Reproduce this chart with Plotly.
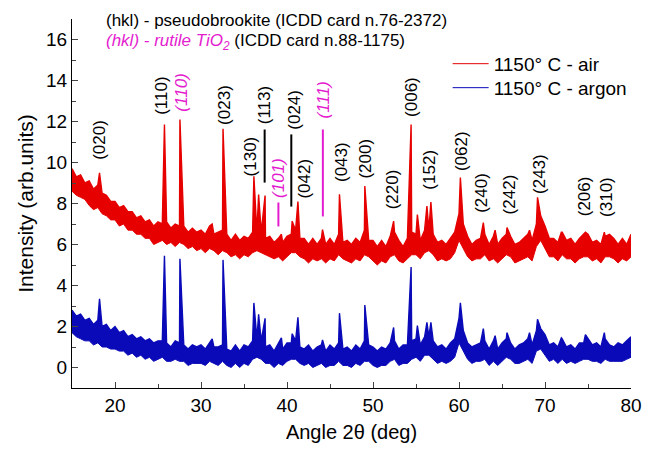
import numpy as np
import plotly.graph_objects as go

# ---------------- data ----------------
angles = np.arange(15.0, 80.001, 0.5)

air_upper = [9.7, 9.3, 9.4, 9.0, 9.1, 8.7, 8.9, 8.5, 8.4, 8.1,
             8.1, 7.8, 7.9, 7.6, 7.6, 7.3, 7.4, 7.1, 7.2, 6.9,
             7.1, 7.0, 7.1, 6.8, 7.0, 6.9, 6.9, 6.6, 6.8, 6.6,
             6.7, 6.5, 6.9, 6.5, 6.6, 6.7, 6.5, 6.2, 6.5, 6.2,
             6.4, 6.3, 6.6, 6.6, 6.6, 6.3, 6.4, 6.1, 6.3, 6.1,
             6.4, 6.5, 6.7, 6.3, 6.3, 6.0, 6.3, 6.0, 6.3, 6.0,
             6.3, 6.0, 6.5, 6.1, 6.2, 6.0, 6.3, 6.1, 6.7, 6.2,
             6.2, 5.9, 6.2, 5.9, 6.4, 6.6, 6.2, 5.9, 6.3, 6.6,
             6.5, 6.2, 6.7, 6.7, 6.5, 6.1, 6.2, 6.0, 6.3, 6.6,
             7.5, 7.0, 6.4, 6.0, 6.2, 6.3, 6.5, 6.0, 6.4, 6.0,
             6.3, 6.5, 6.4, 6.0, 6.1, 6.3, 6.5, 6.2, 7.0, 7.4,
             6.9, 6.3, 6.3, 6.1, 6.6, 6.2, 6.3, 6.0, 6.3, 6.5,
             6.5, 6.1, 6.2, 6.0, 6.4, 6.5, 6.3, 6.0, 6.3, 6.0,
             6.5]
air_lower = [8.6, 8.4, 8.3, 8.2, 7.9, 7.7, 7.8, 7.5, 7.4, 7.2,
             7.2, 6.9, 7.0, 6.7, 6.7, 6.5, 6.5, 6.3, 6.3, 6.0,
             6.1, 6.2, 6.0, 6.1, 5.9, 6.1, 6.0, 5.8, 5.9, 5.7,
             5.8, 5.6, 5.8, 5.7, 5.5, 5.7, 5.6, 5.4, 5.5, 5.3,
             5.5, 5.4, 5.6, 5.7, 5.6, 5.5, 5.4, 5.3, 5.4, 5.2,
             5.4, 5.6, 5.6, 5.4, 5.3, 5.1, 5.3, 5.2, 5.3, 5.1,
             5.3, 5.2, 5.5, 5.3, 5.2, 5.1, 5.3, 5.2, 5.5, 5.4,
             5.2, 5.0, 5.2, 5.1, 5.4, 5.5, 5.2, 5.1, 5.3, 5.5,
             5.5, 5.3, 5.6, 5.7, 5.5, 5.2, 5.3, 5.2, 5.3, 5.6,
             6.2, 5.8, 5.4, 5.2, 5.3, 5.3, 5.5, 5.2, 5.3, 5.1,
             5.3, 5.5, 5.4, 5.1, 5.2, 5.3, 5.4, 5.2, 5.9, 6.2,
             5.8, 5.4, 5.4, 5.2, 5.5, 5.3, 5.3, 5.1, 5.3, 5.4,
             5.4, 5.2, 5.3, 5.1, 5.4, 5.4, 5.3, 5.1, 5.3, 5.2,
             5.4]

argon_upper = [2.8, 2.5, 2.6, 2.3, 2.4, 2.1, 2.3, 2.0, 2.1, 1.8,
               2.0, 1.7, 1.8, 1.5, 1.6, 1.4, 1.5, 1.3, 1.4, 1.2,
               1.3, 1.3, 1.2, 1.0, 1.3, 1.2, 1.1, 0.9, 1.1, 1.0,
               1.1, 0.9, 1.2, 1.0, 1.0, 1.1, 0.9, 0.8, 1.1, 0.8,
               1.1, 1.0, 1.3, 1.4, 1.3, 1.0, 1.1, 0.8, 1.2, 0.9,
               1.2, 1.2, 1.3, 1.0, 0.9, 1.1, 0.8, 1.0, 1.1, 0.8,
               1.1, 0.9, 1.2, 0.9, 1.0, 0.8, 1.1, 0.9, 1.3, 1.1,
               1.0, 0.8, 1.0, 0.9, 1.2, 1.3, 0.9, 1.1, 1.1, 1.3,
               1.4, 1.1, 1.5, 1.5, 1.3, 1.0, 1.1, 0.9, 1.2, 1.4,
               2.4, 1.8, 1.2, 1.0, 1.1, 1.2, 1.3, 0.9, 1.3, 0.9,
               1.2, 1.4, 1.2, 0.9, 1.1, 1.2, 1.4, 1.1, 1.8, 1.9,
               1.6, 1.1, 1.2, 1.0, 1.4, 1.0, 1.1, 0.9, 1.2, 1.2,
               1.4, 1.1, 1.2, 1.0, 1.4, 1.1, 1.0, 1.2, 1.1, 1.3,
               1.5]
argon_lower = [1.7, 1.5, 1.4, 1.3, 1.3, 1.1, 1.2, 1.0, 1.0, 0.9,
               0.9, 0.8, 0.8, 0.6, 0.7, 0.5, 0.6, 0.4, 0.5, 0.3,
               0.4, 0.5, 0.3, 0.3, 0.4, 0.3, 0.3, 0.1, 0.2, 0.2,
               0.2, 0.1, 0.3, 0.2, 0.1, 0.3, 0.1, 0.0, 0.2, 0.0,
               0.2, 0.1, 0.4, 0.5, 0.4, 0.2, 0.2, 0.0, 0.2, 0.1,
               0.3, 0.4, 0.4, 0.2, 0.1, 0.2, 0.0, 0.1, 0.2, 0.0,
               0.1, 0.1, 0.3, 0.1, 0.1, 0.0, 0.2, 0.1, 0.3, 0.3,
               0.1, 0.0, 0.1, 0.1, 0.3, 0.4, 0.1, 0.2, 0.2, 0.4,
               0.5, 0.3, 0.6, 0.6, 0.4, 0.2, 0.3, 0.2, 0.3, 0.5,
               1.2, 0.8, 0.4, 0.2, 0.3, 0.3, 0.4, 0.1, 0.3, 0.1,
               0.3, 0.5, 0.4, 0.2, 0.2, 0.3, 0.4, 0.2, 0.8, 0.9,
               0.6, 0.3, 0.4, 0.2, 0.4, 0.2, 0.3, 0.2, 0.3, 0.4,
               0.4, 0.3, 0.3, 0.2, 0.4, 0.3, 0.3, 0.3, 0.3, 0.4,
               0.5]

peak_angles = [18.2, 25.75, 27.55, 31.3, 32.56, 36.15, 36.7, 37.45, 39.35, 40.6, 41.27, 44.13, 46.1, 49.05,
               52.4, 54.43, 55.16, 56.27, 56.73, 60.16, 62.83, 64.2, 65.58, 68.2, 69.13, 71.9, 74.7, 76.9]
air_peaks = [9.5, 11.85, 12.1, 7.0, 11.65, 9.33, 8.44, 8.39, 6.5, 7.14, 8.1, 6.73, 8.45, 8.85,
             7.14, 11.85, 7.46, 7.87, 8.07, 9.27, 7.07, 6.7, 6.83, 6.7, 8.3, 6.6, 6.6, 6.6]
argon_peaks = [3.35, 5.45, 5.3, 1.4, 5.25, 3.15, 2.6, 2.4, 1.45, 1.65, 2.45, 1.35, 2.65, 3.05,
               1.95, 4.9, 2.05, 2.2, 2.2, 3.15, 1.9, 1.55, 1.7, 1.7, 2.35, 1.45, 1.6, 1.7]

# peak labels: text, angle, label centre height, rutile?
label_text = ["(020)", "(110)", "(110)", "(023)", "(130)", "(113)", "(101)", "(024)", "(042)", "(111)",
              "(043)", "(200)", "(220)", "(006)", "(152)", "(062)", "(240)", "(242)", "(243)", "(206)", "(310)"]
label_x = [18.17, 25.39, 27.8, 32.72, 35.8, 37.41, 39.01, 40.85, 41.99, 44.28,
           46.34, 49.09, 52.3, 54.47, 56.53, 60.31, 62.6, 65.92, 69.35, 74.62, 77.14]
label_y = [11.12, 13.27, 13.41, 12.83, 10.29, 12.78, 9.27, 12.59, 9.22, 13.07,
           10.0, 10.2, 8.68, 13.22, 9.66, 10.54, 8.54, 8.44, 9.46, 8.34, 8.34]
label_rutile = [False, False, True, False, False, False, True, False, False, True,
                False, False, False, False, False, False, False, False, False, False, False]

# leader lines under some labels
leader_x = [37.4, 39.0, 40.5, 44.17]
leader_y0 = [9.02, 6.88, 7.85, 7.37]
leader_y1 = [11.61, 8.05, 11.37, 11.61]
leader_rutile = [False, True, False, True]

series_names = ["1150° C - air", "1150° C - argon"]

RED = "#e60000"
BLUE = "#0a0ab8"
MAGENTA = "#e41ccf"
FONT = "Liberation Sans, Arial, sans-serif"

fig = go.Figure()


def add_series(name, upper, lower, peaks, color, legend_id):
    pts = sorted(list(zip(angles, upper)) + list(zip(peak_angles, peaks)))
    ux = [p[0] for p in pts]
    uy = [p[1] for p in pts]
    fig.add_trace(go.Scatter(x=angles, y=lower, mode="lines", name=name, legend=legend_id,
                             line=dict(color=color, width=1), showlegend=True))
    fig.add_trace(go.Scatter(x=ux, y=uy, mode="lines", fill="tonexty", fillcolor=color,
                             line=dict(color=color, width=1.4), showlegend=False, hoverinfo="skip"))


add_series(series_names[0], air_upper, air_lower, air_peaks, RED, "legend")
add_series(series_names[1], argon_upper, argon_lower, argon_peaks, BLUE, "legend2")

for lx, y0, y1, rut in zip(leader_x, leader_y0, leader_y1, leader_rutile):
    fig.add_trace(go.Scatter(x=[lx, lx], y=[y0, y1], mode="lines",
                             line=dict(color=MAGENTA if rut else "black", width=2),
                             showlegend=False, hoverinfo="skip"))

for t, x, y, rut in zip(label_text, label_x, label_y, label_rutile):
    txt = f"<i>{t}</i>" if rut else t
    fig.add_annotation(x=x, y=y, xref="x", yref="y", text=txt, textangle=-90, showarrow=False,
                       font=dict(family=FONT, size=17, color=MAGENTA if rut else "black"))

fig.add_annotation(xref="paper", yref="paper", x=0.058, y=0.995, xanchor="left", yanchor="middle",
                   text="(hkl) - pseudobrookite (ICDD card n.76-2372)", showarrow=False,
                   font=dict(family=FONT, size=17, color="black"))
fig.add_annotation(xref="paper", yref="paper", x=0.058, y=0.938, xanchor="left", yanchor="middle",
                   text=f"<span style='color:{MAGENTA}'><i>(hkl) - rutile TiO<sub>2</sub></i></span> (ICDD card n.88-1175)",
                   showarrow=False, font=dict(family=FONT, size=17, color="black"))

legend_common = dict(xanchor="left", yanchor="top", bgcolor="rgba(0,0,0,0)",
                     font=dict(family=FONT, size=19, color="black"), itemwidth=36)

fig.update_layout(
    width=654, height=452,
    margin=dict(l=72, r=14, t=19, b=63),
    paper_bgcolor="white", plot_bgcolor="white",
    font=dict(family=FONT, size=18, color="black"),
    legend=dict(x=0.672, y=0.93, **legend_common),
    legend2=dict(x=0.672, y=0.865, **legend_common),
    xaxis=dict(range=[15, 80], dtick=10, tick0=0, ticks="inside", ticklen=6, tickwidth=1.2,
               showline=True, linecolor="black", linewidth=1.3, showgrid=False, zeroline=False,
               minor=dict(dtick=5, tick0=0, ticks="inside", ticklen=4, tickwidth=1.2, showgrid=False),
               tickfont=dict(size=19),
               title=dict(text="Angle 2θ (deg)", font=dict(size=20), standoff=10)),
    yaxis=dict(range=[-1, 17], dtick=2, tick0=0, ticks="inside", ticklen=6, tickwidth=1.2,
               showline=True, linecolor="black", linewidth=1.3, showgrid=False, zeroline=False,
               minor=dict(dtick=1, tick0=0, ticks="inside", ticklen=4, tickwidth=1.2, showgrid=False),
               tickfont=dict(size=19),
               title=dict(text="Intensity (arb.units)", font=dict(size=21), standoff=6)),
)

fig.write_html("out.html")
